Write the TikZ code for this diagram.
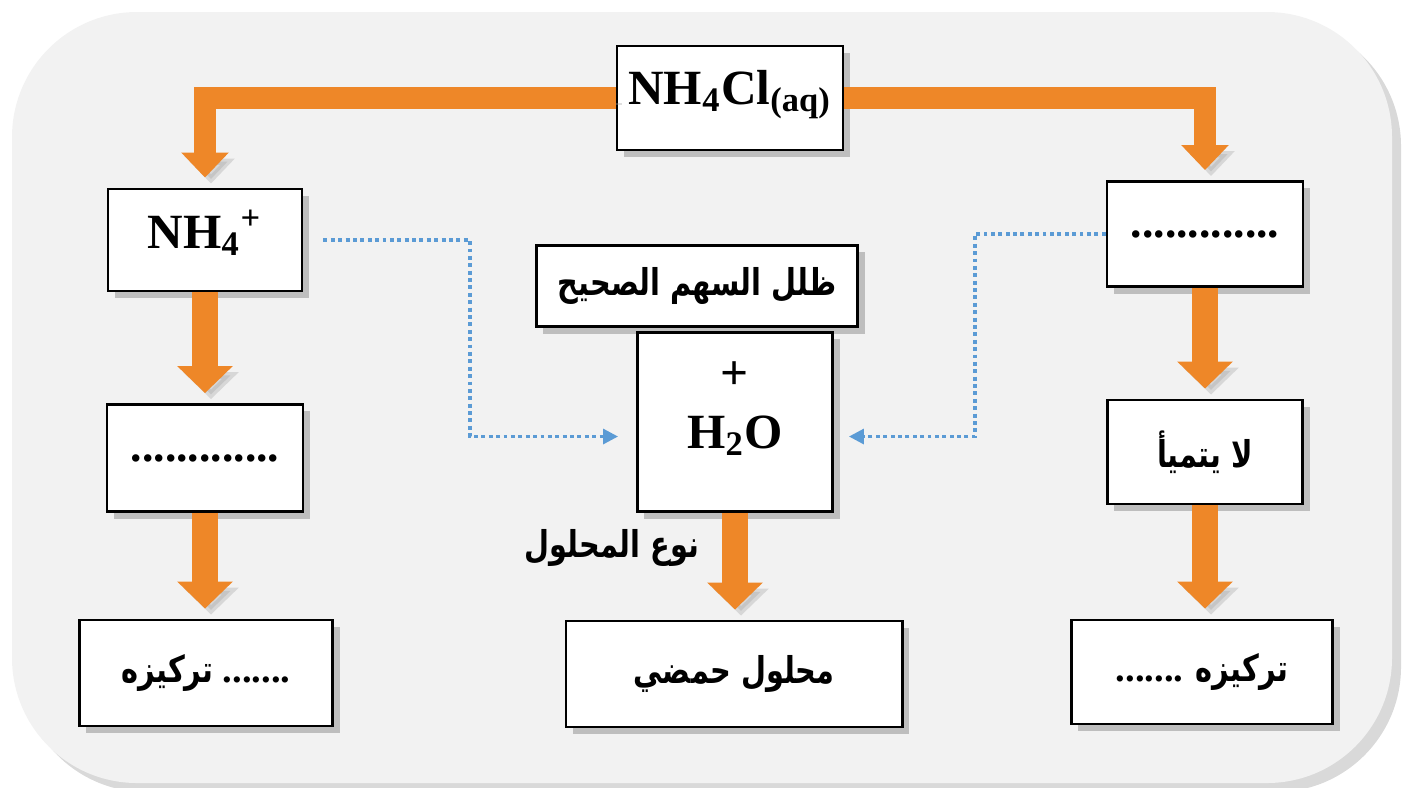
\documentclass[tikz,border=0pt]{standalone}
\usepackage{fontspec}
\setmainfont{Liberation Serif}
\newfontfamily\arabicfont[Script=Arabic,FakeStretch=0.78]{DejaVu Sans}
\TeXXeTstate=1
\usepackage{xcolor}
\usetikzlibrary{math,arrows.meta,shadows}
\definecolor{panel}{RGB}{242,242,242}
\definecolor{flowor}{RGB}{238,135,40}
\definecolor{linkblue}{RGB}{91,155,213}
\newcommand{\ar}[1]{{\arabicfont\bfseries\beginR #1\endR}}

\begin{document}
\begin{tikzpicture}[x=0.01cm,y=-0.01cm,
	box/.style={draw,fill=white,line width=0.8pt,inner sep=0pt,
		drop shadow={shadow xshift=0.7mm,shadow yshift=-0.7mm,opacity=0.45},
		font=\bfseries\fontsize{14}{16}\selectfont},
	arab/.style={font=\bfseries\fontsize{10.5}{13}\selectfont},
	flow/.style={draw=flowor,line width=2.6mm,line join=miter,
		-{Triangle[width=5.4mm,length=2.7mm]},shorten >=1mm,
		preaction={draw=black!35,opacity=0.35,transform canvas={shift={(0.6mm,-0.6mm)}}}},
	thinflow/.style={flow,line width=2.2mm,-{Triangle[width=4.6mm,length=2.5mm]}},
	link/.style={draw=linkblue,line width=0.9pt,dash pattern=on 1.1pt off 1pt,
		-{Triangle[length=1.5mm,width=1.5mm]}}]
\useasboundingbox (0,0) rectangle (1403,787);
\tikzmath{
	\xl = 205;\xc = 735;\xr = 1205;
}
\path[fill=panel,rounded corners=1.25cm,
	drop shadow={shadow xshift=0.9mm,shadow yshift=-0.9mm,opacity=0.3}] (12,12) rectangle (1392,783);
% top
\node[box,minimum width=2.26cm,minimum height=1.04cm,text height=3.6mm,text depth=2.4mm] (salt) at (730,98) {NH\textsubscript{4}Cl\textsubscript{(aq)}};
% left column
\node[box,minimum width=1.94cm,minimum height=1.02cm,text height=4mm,text depth=2.4mm] (nh) at (\xl,240) {NH\textsubscript{4}\textsuperscript{+}};
\node[box,minimum width=1.96cm,minimum height=1.07cm,font=\bfseries\fontsize{13}{15}\selectfont] (lmid) at (\xl,458) {.............};
\node[box,minimum width=2.53cm,minimum height=1.06cm,arab] (lconc) at (206,673) {\ar{تركيزه} {\fontsize{11}{13}\selectfont .......}};
% centre
\node[box,minimum width=3.21cm,minimum height=0.81cm,arab] (hint) at (697,286) {\ar{ظلل السهم الصحيح}};
\node[box,minimum width=1.95cm,minimum height=1.79cm] (water) at (\xc,422) {};
\node[font=\bfseries\fontsize{14}{16}\selectfont,align=center] (wtxt) at (\xc,409) {+\\[0.2mm]H\textsubscript{2}O};
\node[box,minimum width=3.36cm,minimum height=1.06cm,arab] (acid) at (734,674) {\ar{محلول حمضي}};
\node[arab] (kind) at (612,548) {\ar{نوع المحلول}};
% right column
\node[box,minimum width=1.96cm,minimum height=1.05cm,font=\bfseries\fontsize{13}{15}\selectfont] (an) at (\xr,234) {.............};
\node[box,minimum width=1.95cm,minimum height=1.04cm,arab] (nohyd) at (\xr,452) {\ar{لا يتميأ}};
\node[box,minimum width=2.61cm,minimum height=1.04cm,arab] (rconc) at (1202,672) {{\fontsize{11}{13}\selectfont .......} \ar{تركيزه}};
% orange arrows
\draw[thinflow] (salt.west) -| (nh.north);
\draw[thinflow] (salt.east) -| (an.north);
\draw[flow] (nh.south) -- (lmid.north);
\draw[flow] (lmid.south) -- (lmid.south |- lconc.north);
\draw[flow] (water.south) -- (water.south |- acid.north);
\draw[flow] (an.south) -- (an.south |- nohyd.north);
\draw[flow] (nohyd.south) -- (nohyd.south |- rconc.north);
% dotted links
\coordinate (lb) at (470,240);
\coordinate (rb) at (975,234);
\draw[link,shorten <=2mm,shorten >=1.8mm] (nh.east) -- (lb) |- ([yshift=-1.45mm]water.west);
\draw[link,shorten >=1.5mm] (an.west) -- (rb) |- ([yshift=-1.45mm]water.east);
\end{tikzpicture}
\end{document}
